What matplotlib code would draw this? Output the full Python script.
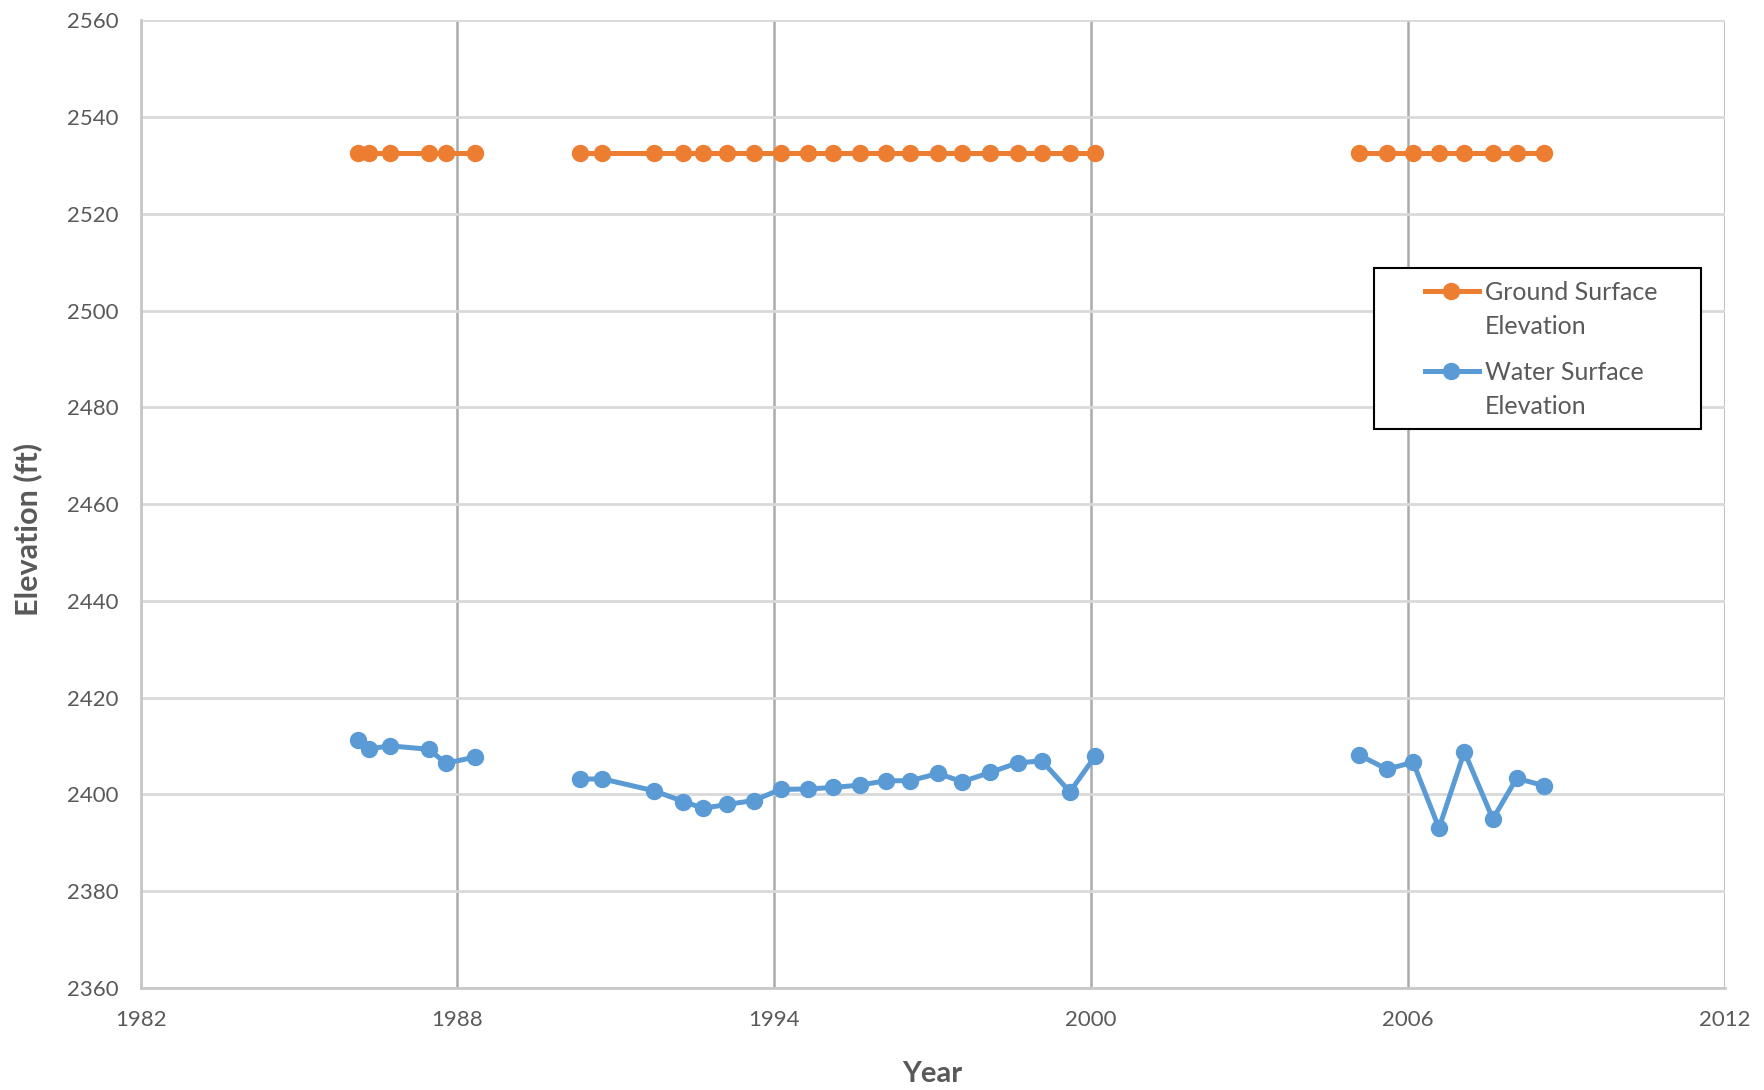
import matplotlib.pyplot as plt
from matplotlib.lines import Line2D
from matplotlib.patches import Rectangle

plt.rcParams['font.family'] = ['Lato', 'DejaVu Sans']

ORANGE = '#ED7D31'
BLUE = '#5B9BD5'
TEXT = '#595959'

# three survey periods with gaps between them
years_1 = [1986.12, 1986.33, 1986.73, 1987.46, 1987.78, 1988.34]
water_1 = [2411.2, 2409.4, 2410.0, 2409.3, 2406.4, 2407.7]

years_2 = [1990.32, 1990.74, 1991.73, 1992.28, 1992.66, 1993.11, 1993.61,
           1994.12, 1994.64, 1995.11, 1995.63, 1996.12, 1996.58, 1997.10,
           1997.56, 1998.09, 1998.61, 1999.07, 1999.60, 2000.08]
water_2 = [2403.1, 2403.2, 2400.7, 2398.5, 2397.1, 2397.9, 2398.7,
           2401.0, 2401.1, 2401.4, 2401.9, 2402.8, 2402.8, 2404.3,
           2402.6, 2404.5, 2406.5, 2406.9, 2400.5, 2407.9]

years_3 = [2005.08, 2005.60, 2006.10, 2006.59, 2007.07, 2007.61, 2008.06, 2008.57]
water_3 = [2408.1, 2405.2, 2406.6, 2393.0, 2408.8, 2394.9, 2403.3, 2401.8]

ground_elev = 2532.5

x_ticks = [1982, 1988, 1994, 2000, 2006, 2012]
y_ticks = list(range(2360, 2561, 20))

series_names = [('Ground Surface', 'Elevation'), ('Water Surface', 'Elevation')]
series_colors = [ORANGE, BLUE]

W, H = 1764, 1090
fig = plt.figure(figsize=(W / 100, H / 100), dpi=100)
ax = fig.add_axes([0.0797, 0.0938, 0.898, 0.8876])

LW, MS = 3.6, 11.5
segments = [(years_1, water_1), (years_2, water_2), (years_3, water_3)]
for yrs, wat in segments:
    ax.plot(yrs, [ground_elev] * len(yrs), color=ORANGE, lw=LW, marker='o',
            ms=MS, zorder=3)
    ax.plot(yrs, wat, color=BLUE, lw=LW, marker='o', ms=MS, zorder=3)

ax.set_xlim(1982, 2012)
ax.set_ylim(2360, 2560)
ax.set_xticks(x_ticks)
ax.set_yticks(y_ticks)
ax.tick_params(length=0, labelsize=16, labelcolor=TEXT)
ax.tick_params(axis='y', pad=16)
ax.tick_params(axis='x', pad=16)

ax.yaxis.grid(True, color='#D9D9D9', lw=2)
ax.xaxis.grid(True, color='#ABABAB', lw=1.8)
ax.set_axisbelow(True)
for side in ['top', 'right']:
    ax.spines[side].set_visible(False)
for side in ['left', 'bottom']:
    ax.spines[side].set_color('#C8C8C8')
    ax.spines[side].set_linewidth(2)

ax.set_xlabel('Year', fontsize=21, fontweight='bold', color=TEXT)
ax.xaxis.set_label_coords(0.5, -0.089)
ax.xaxis.label.set_va('center')
ax.set_ylabel('Elevation (ft)', fontsize=22, fontweight='bold', color=TEXT)
ax.yaxis.set_label_coords(-0.0711, 0.474)
ax.yaxis.label.set_va('center')


# legend box drawn by hand so the marker sits on the first text line
def px(x, y):
    return x / W, 1 - y / H


x0, y0 = px(1373.6, 428.6)
x1, y1 = px(1701, 267.75)
fig.add_artist(Rectangle((x0, y0), x1 - x0, y1 - y0, transform=fig.transFigure,
                         fill=True, facecolor='white', edgecolor='black',
                         lw=1.5, zorder=5))
for (line_a, line_b), color, top in zip(series_names, series_colors, [291, 371]):
    lx0, ly = px(1425, top)
    lx1, _ = px(1479, top)
    mx, _ = px(1451, top)
    fig.add_artist(Line2D([lx0, lx1], [ly, ly], transform=fig.transFigure,
                          color=color, lw=LW, zorder=6))
    fig.add_artist(Line2D([mx], [ly], transform=fig.transFigure, color=color,
                          marker='o', ms=MS, zorder=6))
    tx, _ = px(1485, top)
    _, ly2 = px(0, top + 33)
    fig.text(tx, ly, line_a, fontsize=18, color=TEXT, ha='left',
             va='center_baseline', zorder=7)
    fig.text(tx, ly2, line_b, fontsize=18, color=TEXT, ha='left',
             va='center_baseline', zorder=7)

fig.savefig('out.png', dpi=100)
